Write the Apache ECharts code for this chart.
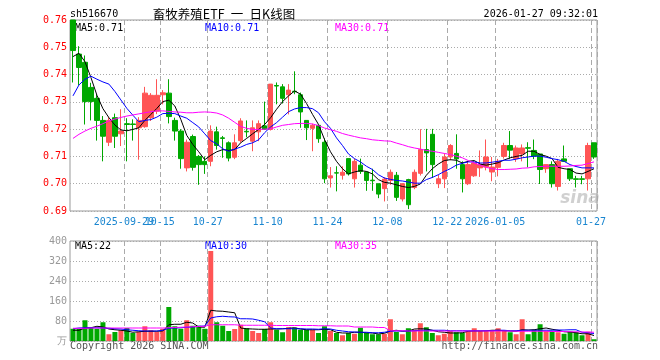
<!DOCTYPE html>
<html><head><meta charset="utf-8">
<script src="https://cdn.jsdelivr.net/npm/echarts@6/dist/echarts.min.js"></script>
<style>html,body{margin:0;padding:0;background:#fff}#c{width:660px;height:360px}</style>
</head><body><div id="c"></div>
<script>
const dates = ['2025-09-16','2025-09-17','2025-09-18','2025-09-19','2025-09-22','2025-09-23','2025-09-24','2025-09-25','2025-09-26','2025-09-29','2025-09-30',
'2025-10-09','2025-10-10','2025-10-13','2025-10-14','2025-10-15','2025-10-16','2025-10-17','2025-10-20','2025-10-21','2025-10-22','2025-10-23','2025-10-24','2025-10-27','2025-10-28','2025-10-29','2025-10-30','2025-10-31',
'2025-11-03','2025-11-04','2025-11-05','2025-11-06','2025-11-07','2025-11-10','2025-11-11','2025-11-12','2025-11-13','2025-11-14','2025-11-17','2025-11-18','2025-11-19','2025-11-20','2025-11-21','2025-11-24','2025-11-25','2025-11-26','2025-11-27','2025-11-28',
'2025-12-01','2025-12-02','2025-12-03','2025-12-04','2025-12-05','2025-12-08','2025-12-09','2025-12-10','2025-12-11','2025-12-12','2025-12-15','2025-12-16','2025-12-17','2025-12-18','2025-12-19','2025-12-22','2025-12-23','2025-12-24','2025-12-25','2025-12-26','2025-12-29','2025-12-30','2025-12-31',
'2026-01-05','2026-01-06','2026-01-07','2026-01-08','2026-01-09','2026-01-12','2026-01-13','2026-01-14','2026-01-15','2026-01-16','2026-01-19','2026-01-20','2026-01-21','2026-01-22','2026-01-23','2026-01-26','2026-01-27'];

const tickDates = ['2025-09-29','2025-10-15','2025-10-27','2025-11-10','2025-11-24','2025-12-08','2025-12-22','2026-01-05','2026-01-27'];
const tickText  = ['2025-09-29','10-15','10-27','11-10','11-24','12-08','12-22','2026-01-05','01-27'];

const openV = [0.7600,0.7475,0.7445,0.7353,0.7313,0.7232,0.7152,0.7242,0.7183,0.7220,0.7219,0.7205,0.7209,0.7242,0.7266,0.7326,0.7332,0.7232,0.7193,0.7058,0.7173,0.7100,0.7082,0.7082,0.7190,
0.7168,0.7150,0.7097,0.7158,0.7192,0.7156,0.7190,0.7212,0.7199,0.7360,0.7355,0.7326,0.7339,0.7326,0.7232,0.7203,0.7214,0.7152,0.7021,0.7040,0.7031,0.7092,0.7018,0.7068,0.7043,0.7013,0.7000,0.6982,0.7012,0.7031,0.6944,0.7015,0.6986,0.7038,
0.7125,0.7181,0.7000,0.7018,0.7098,0.7111,0.7070,0.7000,0.7029,0.7058,0.7061,0.7043,0.7060,0.7100,0.7140,0.7092,0.7109,0.7132,0.7122,0.7109,0.7055,0.7070,0.6990,0.7091,0.7055,0.7018,0.7018,0.7018,0.7150];
const closeV = [0.7488,0.7426,0.7301,0.7301,0.7232,0.7174,0.7232,0.7174,0.7193,0.7217,0.7217,0.7232,0.7332,0.7324,0.7324,0.7333,0.7246,0.7193,0.7092,0.7152,0.7060,0.7070,0.7070,0.7193,0.7140,
0.7166,0.7094,0.7150,0.7230,0.7190,0.7205,0.7220,0.7200,0.7365,0.7358,0.7313,0.7343,0.7337,0.7263,0.7205,0.7214,0.7165,0.7018,0.7029,0.7039,0.7042,0.7036,0.7082,0.7045,0.7012,0.7011,0.6962,0.7017,0.7042,0.6950,0.7000,0.6923,0.7042,0.7125,
0.7113,0.7070,0.7018,0.7098,0.7140,0.7091,0.7018,0.7070,0.7076,0.7070,0.7098,0.7061,0.7082,0.7140,0.7123,0.7131,0.7131,0.7130,0.7101,0.7052,0.7070,0.7000,0.7082,0.7082,0.7018,0.7016,0.7016,0.7140,0.7098];
const lowV = [0.7371,0.7362,0.7217,0.7232,0.7158,0.7082,0.7138,0.7131,0.7138,0.7082,0.7158,0.7088,0.7205,0.7230,0.7255,0.7291,0.7221,0.7158,0.7055,0.7045,0.7048,0.6996,0.7036,0.7064,0.7125,
0.7095,0.7082,0.7090,0.7150,0.7170,0.7119,0.7156,0.7198,0.7195,0.7291,0.7294,0.7254,0.7328,0.7205,0.7160,0.7119,0.7150,0.7002,0.6986,0.6972,0.7015,0.7030,0.6986,0.7036,0.6974,0.6974,0.6947,0.6935,0.6996,0.6937,0.6935,0.6907,0.6980,0.7030,
0.7045,0.7021,0.6984,0.6984,0.7086,0.7055,0.6968,0.6995,0.7025,0.7025,0.7049,0.7009,0.7027,0.7092,0.7091,0.7080,0.7082,0.7060,0.7090,0.6999,0.7040,0.6986,0.6975,0.7080,0.7010,0.6986,0.6998,0.6975,0.7091];
const highV = [0.7600,0.7504,0.7470,0.7370,0.7328,0.7248,0.7244,0.7257,0.7273,0.7240,0.7236,0.7244,0.7355,0.7332,0.7383,0.7343,0.7383,0.7242,0.7200,0.7162,0.7180,0.7105,0.7100,0.7214,0.7209,
0.7175,0.7155,0.7181,0.7240,0.7232,0.7232,0.7232,0.7301,0.7365,0.7371,0.7365,0.7365,0.7412,0.7334,0.7232,0.7220,0.7214,0.7166,0.7061,0.7064,0.7064,0.7092,0.7092,0.7092,0.7045,0.7055,0.7000,0.7024,0.7052,0.7043,0.7002,0.7018,0.7052,0.7200,
0.7201,0.7201,0.7033,0.7111,0.7145,0.7181,0.7082,0.7082,0.7082,0.7122,0.7162,0.7098,0.7091,0.7150,0.7193,0.7140,0.7144,0.7152,0.7162,0.7109,0.7070,0.7082,0.7091,0.7140,0.7055,0.7029,0.7029,0.7150,0.7150];

const ma5 = [0.7466,0.7478,0.7447,0.7389,0.7324,0.7275,0.7242,0.7215,0.7197,0.7194,0.7199,0.7205,0.7232,0.7254,0.7276,0.7301,0.7306,0.7285,0.7236,0.7177,0.7144,0.7117,0.7088,0.7104,0.7117,
0.7125,0.7122,0.7125,0.7150,0.7166,0.7183,0.7199,0.7217,0.7242,0.7273,0.7301,0.7322,0.7340,0.7328,0.7294,0.7254,0.7217,0.7162,0.7117,0.7082,0.7055,0.7036,0.7043,0.7048,0.7045,0.7036,0.7015,0.7005,0.7002,0.6996,0.6990,0.6986,0.6990,0.6999,
0.7031,0.7055,0.7072,0.7085,0.7088,0.7086,0.7076,0.7082,0.7085,0.7072,0.7068,0.7072,0.7077,0.7087,0.7095,0.7100,0.7104,0.7119,0.7119,0.7107,0.7101,0.7092,0.7060,0.7055,0.7052,0.7039,0.7036,0.7045,0.7055];
const ma10 = [0.7322,0.7362,0.7383,0.7394,0.7383,0.7373,0.7365,0.7338,0.7307,0.7276,0.7251,0.7227,0.7232,0.7235,0.7244,0.7257,0.7258,0.7257,0.7248,0.7240,0.7224,0.7208,0.7183,0.7158,0.7146,
0.7128,0.7119,0.7127,0.7134,0.7144,0.7150,0.7161,0.7187,0.7208,0.7224,0.7244,0.7264,0.7274,0.7279,0.7279,0.7275,0.7260,0.7227,0.7203,0.7168,0.7140,0.7109,0.7092,0.7080,0.7064,0.7052,0.7033,0.7021,0.7016,0.7012,0.7010,0.7006,0.7002,0.7002,
0.7015,0.7023,0.7033,0.7045,0.7055,0.7068,0.7075,0.7080,0.7080,0.7076,0.7076,0.7079,0.7082,0.7086,0.7086,0.7090,0.7095,0.7098,0.7101,0.7101,0.7097,0.7092,0.7088,0.7082,0.7070,0.7063,0.7058,0.7058,0.7058];
const ma30 = [0.7166,0.7181,0.7193,0.7203,0.7211,0.7220,0.7230,0.7237,0.7243,0.7248,0.7252,0.7256,0.7260,0.7264,0.7267,0.7267,0.7265,0.7263,0.7262,0.7260,0.7260,0.7262,0.7263,0.7262,0.7259,
0.7252,0.7240,0.7225,0.7210,0.7203,0.7199,0.7199,0.7200,0.7201,0.7208,0.7214,0.7217,0.7220,0.7221,0.7221,0.7219,0.7213,0.7204,0.7198,0.7192,0.7184,0.7178,0.7173,0.7168,0.7165,0.7161,0.7159,0.7157,0.7156,0.7149,0.7143,0.7136,0.7131,0.7127,
0.7122,0.7119,0.7115,0.7111,0.7107,0.7101,0.7095,0.7085,0.7076,0.7068,0.7060,0.7055,0.7052,0.7052,0.7053,0.7054,0.7057,0.7058,0.7062,0.7063,0.7064,0.7064,0.7064,0.7064,0.7065,0.7067,0.7068,0.7074,0.7080];

const volume = [49,48,83,52,49,75,27,36,43,52,32,36,59,43,36,49,136,59,49,83,61,61,49,360,75,61,40,48,65,51,40,32,48,75,45,35,55,53,45,45,45,32,59,40,
32,23,32,29,53,33,27,27,29,87,36,27,51,45,71,55,32,23,29,40,35,32,40,51,40,40,40,51,40,35,27,87,27,45,67,40,40,35,29,37,35,23,37,7];
const volMa5 = [43,43,52,53,59,56,48,45,43,40,35,37,39,39,39,40,65,67,67,75,72,56,55,123,120,119,116,113,52,49,48,47,47,48,48,49,51,53,48,45,45,45,47,45,
35,32,32,35,35,33,32,28,31,40,43,39,40,48,49,48,43,37,35,32,32,33,39,40,40,41,43,43,41,40,39,45,44,45,49,52,47,43,37,36,33,29,29,22];
const volMa10 = [49,52,53,53,53,52,51,49,48,45,43,41,40,40,40,43,51,52,53,55,56,59,60,92,97,99,97,96,89,89,88,83,77,52,49,49,49,49,49,48,48,47,49,48,
43,40,37,36,35,35,33,33,35,39,40,40,40,41,43,43,43,43,43,41,41,41,41,41,41,41,41,43,43,41,41,43,43,43,43,43,43,44,44,45,45,35,33,30];
const volMa30 = [51,51,51,52,52,52,52,52,52,52,52,52,52,52,52,52,53,54,55,56,57,58,59,65,65,65,65,65,63,63,63,63,63,63,62,62,62,62,62,62,62,61,61,61,
60,60,60,56,56,56,56,54,54,41,41,41,40,40,40,40,40,40,40,40,40,40,40,40,40,40,40,40,40,40,39,39,39,39,39,39,38,38,38,37,37,36,36,35];

const UP = '#ff5555', DOWN = '#00a800';
const MONO = 'DejaVu Sans Mono';
const kData = dates.map((d, i) => [openV[i], closeV[i], lowV[i], highV[i]]);
const volData = volume.map((v, i) => ({ value: v, itemStyle: { color: closeV[i] >= openV[i] ? UP : DOWN } }));
const isTick = (idx) => tickDates.indexOf(dates[idx]) >= 0;

function labelCfg(filter) {
  return {
    show: true, interval: (idx) => filter(idx), margin: 6, hideOverlap: false,
    formatter: (v) => tickText[tickDates.indexOf(v)],
    color: '#1a86d0', fontFamily: MONO, fontSize: 10, padding: [0, 6, 0, 0]
  };
}
function xAxisFor(gi, labels) {
  return {
    type: 'category', gridIndex: gi, data: dates, boundaryGap: true, position: 'bottom',
    axisLine: { show: false }, axisTick: { show: false },
    axisLabel: labels ? labelCfg((idx) => isTick(idx) && dates[idx] !== tickDates[0]) : { show: false },
    splitLine: { show: true, interval: (idx) => isTick(idx), lineStyle: { color: '#aaa', type: [5, 3], width: 1 } }
  };
}
// extra axis on the price grid carrying only the first tick label (it overlaps the next one)
const firstLabelAxis = {
  type: 'category', gridIndex: 0, data: dates, boundaryGap: true, position: 'bottom', offset: 0,
  axisLine: { show: false }, axisTick: { show: false }, splitLine: { show: false },
  axisLabel: labelCfg((idx) => dates[idx] === tickDates[0])
};
function line(name, data, color, xi, yi) {
  return { name, type: 'line', data, xAxisIndex: xi, yAxisIndex: yi, symbol: 'none', smooth: false,
    lineStyle: { color, width: 1 }, itemStyle: { color }, z: 5, silent: true };
}
function txt(text, x, y, fill, opts) {
  return { type: 'text', silent: true, style: Object.assign({ text, x, y, fill, fontFamily: MONO, fontSize: 10, textVerticalAlign: 'middle' }, opts || {}) };
}

const chart = echarts.init(document.getElementById('c'), null, { renderer: 'canvas' });
chart.setOption({
  animation: false,
  backgroundColor: '#fff',
  grid: [
    { left: 70, right: 63, top: 20, height: 191, show: true, borderColor: '#999', borderWidth: 1, backgroundColor: 'transparent' },
    { left: 70, right: 63, top: 241, height: 100, show: true, borderColor: '#999', borderWidth: 1, backgroundColor: 'transparent' }
  ],
  xAxis: [xAxisFor(0, true), xAxisFor(1, false), firstLabelAxis],
  yAxis: [
    { type: 'value', gridIndex: 0, min: 0.69, max: 0.76, interval: 0.01,
      axisLine: { show: false }, axisTick: { show: false },
      axisLabel: { color: '#ff0000', fontFamily: MONO, fontSize: 10, margin: 3, formatter: (v) => v.toFixed(2) },
      splitLine: { show: true, lineStyle: { color: '#aaa', type: [1, 2], width: 1 } } },
    { type: 'value', gridIndex: 1, min: 0, max: 400, interval: 80,
      axisLine: { show: false }, axisTick: { show: false },
      axisLabel: { color: '#999', fontFamily: MONO, fontSize: 10, margin: 3, formatter: (v) => v === 0 ? '万' : String(v) },
      splitLine: { show: true, lineStyle: { color: '#aaa', type: [1, 2], width: 1 } } }
  ],
  series: [
    { type: 'candlestick', xAxisIndex: 0, yAxisIndex: 0, data: kData, barWidth: 5,
      itemStyle: { color: UP, color0: DOWN, borderColor: UP, borderColor0: DOWN, borderWidth: 1 } },
    line('MA5', ma5, '#000000', 0, 0),
    line('MA10', ma10, '#0000ff', 0, 0),
    line('MA30', ma30, '#ff00ff', 0, 0),
    { type: 'bar', xAxisIndex: 1, yAxisIndex: 1, data: volData, barWidth: 5 },
    line('VMA5', volMa5, '#000000', 1, 1),
    line('VMA10', volMa10, '#0000ff', 1, 1),
    line('VMA30', volMa30, '#ff00ff', 1, 1)
  ],
  graphic: [
    txt('sh516670', 70, 14, '#000'),
    txt('畜牧养殖ETF\u2002一\u2002日K线图', 224, 14, '#000', { fontFamily: 'Noto Sans CJK SC', fontSize: 12.5, textAlign: 'center' }),
    txt('2026-01-27 09:32:01', 598, 14, '#000', { textAlign: 'right' }),
    txt('MA5:0.71', 75, 28, '#000'),
    txt('MA10:0.71', 205, 28, '#0000ff'),
    txt('MA30:0.71', 335, 28, '#ff00ff'),
    txt('MA5:22', 75, 246, '#000'),
    txt('MA10:30', 205, 246, '#0000ff'),
    txt('MA30:35', 335, 246, '#ff00ff'),
    txt('Copyright 2026 SINA.COM', 70, 346, '#555'),
    txt('http://finance.sina.com.cn', 598, 346, '#555', { textAlign: 'right' }),
    txt('sina', 580, 199, 'rgba(170,170,170,0.55)', { fontFamily: 'DejaVu Sans', fontSize: 17, fontStyle: 'italic', fontWeight: 'bold', textAlign: 'center' })
  ]
});
</script></body></html>
